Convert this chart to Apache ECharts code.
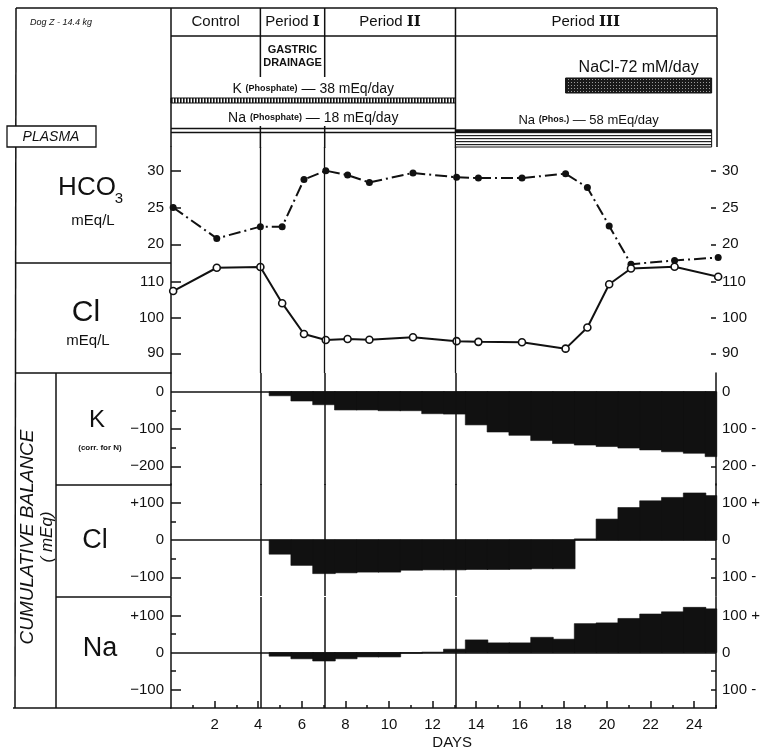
<!DOCTYPE html>
<html><head><meta charset="utf-8">
<script src="https://cdn.jsdelivr.net/npm/echarts@6/dist/echarts.min.js"></script>
<style>html,body{margin:0;padding:0;background:#fff}#c{width:770px;height:751px}</style>
</head><body><div id="c"></div>
<script>
const FONT = "'Liberation Sans','DejaVu Sans',sans-serif";
const INK = '#111';

// ---- Plasma values (sampling day, value) ----
const plasmaDays = [0.1, 2.1, 4.1, 5.1, 6.1, 7.1, 8.1, 9.1, 11.1, 13.1, 14.1, 16.1, 18.1, 19.1, 20.1, 21.1, 23.1, 25.1];
const hco3Values = [25.0, 20.8, 22.4, 22.4, 28.8, 30.0, 29.4, 28.4, 29.7, 29.1, 29.0, 29.0, 29.6, 27.7, 22.5, 17.3, 17.8, 18.2];
const clPlasmaValues = [107.4, 113.9, 114.1, 104.0, 95.4, 93.7, 94.0, 93.8, 94.5, 93.4, 93.2, 93.1, 91.3, 97.2, 109.3, 113.7, 114.2, 111.4];

// ---- Cumulative balances (mEq), one bar per day ----
const balanceDays = [5, 6, 7, 8, 9, 10, 11, 12, 13, 14, 15, 16, 17, 18, 19, 20, 21, 22, 23, 24, 25];
const kBalance  = [-11, -25, -35, -49, -49, -51, -51, -59, -60, -89, -108, -117, -131, -139, -143, -147, -151, -156, -161, -165, -174];
const clBalance = [-38, -68, -90, -88, -86, -86, -81, -80, -80, -79, -79, -78, -77, -77, 3, 56, 87, 105, 114, 126, 119];
const naBalance = [-10, -17, -23, -17, -12, -12, -2, 1, 9, 34, 26, 26, 41, 36, 78, 80, 92, 104, 110, 122, 118];

// ---- Periods and tick labels ----
const periodBounds = [4.1, 7.05, 13.05];
const dayTickLabels = [2, 4, 6, 8, 10, 12, 14, 16, 18, 20, 22, 24];
const dayMinorTicks = [1, 3, 5, 7, 9, 11, 13, 15, 17, 19, 21, 23, 25];
const hco3Ticks = [20, 25, 30];
const clPlasmaTicks = [90, 100, 110];
const kTicks = [0, -100, -200];
const kMinor = [-50, -150];
const clBalTicks = [100, 0, -100];
const clBalMinor = [50, -50];
const naBalTicks = [100, 0, -100];
const naBalMinor = [50, -50];

const zip = (a, b) => a.map((v, i) => [v, b[i]]);

const GL = 171, GR = 54;
const grids = [
  {left: GL, right: GR, top: 147, height: 226},
  {left: GL, right: GR, top: 147, height: 226},
  {left: GL, right: GR, top: 373, height: 112},
  {left: GL, right: GR, top: 484, height: 112},
  {left: GL, right: GR, top: 597, height: 111}
];

function xAx(g, extra) {
  return Object.assign({type: 'value', gridIndex: g, min: 0, max: 25, position: 'bottom',
    axisLine: {show: false, onZero: false}, axisTick: {show: false}, axisLabel: {show: false}, splitLine: {show: false}}, extra || {});
}
function yAx(g, min, max, extra) {
  return Object.assign({type: 'value', gridIndex: g, min: min, max: max,
    axisLine: {show: false, onZero: false}, axisTick: {show: false}, axisLabel: {show: false}, splitLine: {show: false}}, extra || {});
}
const lineSt = {color: INK, width: 1.5};
const lblBase = {show: true, color: INK, fontFamily: FONT, fontSize: 15};
const leftFmt = v => v === 0 ? '0' : (v > 0 ? '+' + v : '\u2212' + Math.abs(v));
const rightFmt = v => v === 0 ? '0' : (v < 0 ? Math.abs(v) + ' -' : Math.abs(v) + ' +');

function majorLeft(g, min, max, ticks, labels, fmt, showLine) {
  return yAx(g, min, max, {position: 'left',
    axisLine: {show: !!showLine, onZero: false, lineStyle: lineSt},
    axisTick: {show: true, inside: true, length: 10, customValues: ticks, lineStyle: lineSt},
    axisLabel: Object.assign({}, lblBase, {customValues: labels, margin: 7, formatter: fmt})});
}
function minorLeft(g, min, max, ticks) {
  return yAx(g, min, max, {position: 'left',
    axisTick: {show: true, inside: true, length: 5, customValues: ticks, lineStyle: lineSt}});
}
function right(g, min, max, ticks, labels, fmt, showLine) {
  return yAx(g, min, max, {position: 'right',
    axisLine: {show: !!showLine, onZero: false, lineStyle: lineSt},
    axisTick: {show: true, inside: true, length: 5, customValues: ticks, lineStyle: lineSt},
    axisLabel: Object.assign({}, lblBase, {customValues: labels, margin: 6, formatter: fmt})});
}

const H_MIN = 2.51, H_MAX = 33.22, C_MIN = 84.5, C_MAX = 147.63;
const yAxes = [
  majorLeft(0, H_MIN, H_MAX, hco3Ticks, hco3Ticks, v => String(v), true),
  right(0, H_MIN, H_MAX, hco3Ticks, hco3Ticks, v => String(v), false),
  majorLeft(1, C_MIN, C_MAX, clPlasmaTicks, clPlasmaTicks, v => String(v), false),
  right(1, C_MIN, C_MAX, clPlasmaTicks, clPlasmaTicks, v => String(v), false),
  majorLeft(2, -250, 50, [-100, -200], kTicks, leftFmt, true),
  minorLeft(2, -250, 50, kMinor),
  right(2, -250, 50, [-50, -100, -150, -200], kTicks, rightFmt, true),
  majorLeft(3, -150, 150, [100, -100], clBalTicks, leftFmt, true),
  minorLeft(3, -150, 150, clBalMinor),
  right(3, -150, 150, [100, 50, -50, -100], clBalTicks, rightFmt, true),
  majorLeft(4, -150, 150, [100, -100], naBalTicks, leftFmt, true),
  minorLeft(4, -150, 150, naBalMinor),
  right(4, -150, 150, [100, 50, -50, -100], naBalTicks, rightFmt, true)
];
const xAxes = [
  xAx(0), xAx(1), xAx(2), xAx(3),
  xAx(4, {axisLine: {show: true, onZero: false, lineStyle: lineSt},
    axisTick: {show: true, inside: true, length: 7, customValues: dayTickLabels, lineStyle: lineSt},
    axisLabel: Object.assign({}, lblBase, {customValues: dayTickLabels, margin: 9})}),
  xAx(4, {axisTick: {show: true, inside: true, length: 3, customValues: dayMinorTicks, lineStyle: lineSt}})
];

const periodMark = {
  symbol: 'none', silent: true, label: {show: false},
  lineStyle: {color: INK, width: 1.3, type: 'solid'},
  data: periodBounds.map(d => ({xAxis: d}))
};
function balMark() {
  return {symbol: 'none', silent: true, label: {show: false},
    lineStyle: {color: INK, width: 1.5, type: 'solid'},
    data: [{yAxis: 0}].concat(periodBounds.map(d => ({xAxis: d})))};
}
function barItem(params, api) {
  const d = api.value(0), v = api.value(1);
  const x0 = Math.max(d - 0.5, 0), x1 = Math.min(d + 0.5, 25);
  const a = api.coord([x0, v]), b = api.coord([x1, 0]);
  return {type: 'rect', shape: {x: a[0], y: Math.min(a[1], b[1]), width: b[0] - a[0] + 0.8, height: Math.abs(b[1] - a[1])},
    style: {fill: INK, stroke: INK, lineWidth: 0.6}};
}
function balSeries(g, yIdx, data) {
  return {type: 'custom', xAxisIndex: g, yAxisIndex: yIdx, renderItem: barItem,
    data: zip(balanceDays, data), markLine: balMark(), silent: true};
}

const series = [
  {type: 'line', xAxisIndex: 0, yAxisIndex: 0, data: zip(plasmaDays, hco3Values), clip: false,
   symbol: 'circle', symbolSize: 7, itemStyle: {color: INK},
   lineStyle: {color: INK, width: 2, type: [12, 4, 2, 4]}, markLine: periodMark, z: 3},
  {type: 'line', xAxisIndex: 1, yAxisIndex: 2, data: zip(plasmaDays, clPlasmaValues), clip: false,
   symbol: 'circle', symbolSize: 7, itemStyle: {color: '#fff', borderColor: INK, borderWidth: 1.6},
   lineStyle: {color: INK, width: 2}, z: 4},
  balSeries(2, 4, kBalance),
  balSeries(3, 7, clBalance),
  balSeries(4, 10, naBalance)
];

const chart = echarts.init(document.getElementById('c'), null, {renderer: 'canvas'});
chart.setOption({animation: false, backgroundColor: '#fff', grid: grids, xAxis: xAxes, yAxis: yAxes, series: series});

// ---- header / frame decoration positioned from the x scale ----
const px = v => chart.convertToPixel({xAxisIndex: 0}, v);
const L = px(0), R = px(25), p1 = px(periodBounds[0]), p2 = px(periodBounds[1]), p3 = px(periodBounds[2]);
function pattern(w, h, draw) {
  const c = document.createElement('canvas'); c.width = w; c.height = h;
  const g = c.getContext('2d'); draw(g); return {image: c, repeat: 'repeat'};
}
const vStripes = pattern(3, 4, g => { g.fillStyle = '#fff'; g.fillRect(0, 0, 3, 4); g.fillStyle = '#111'; g.fillRect(0, 0, 1.6, 4); });
const hStripes = pattern(4, 3, g => { g.fillStyle = '#fff'; g.fillRect(0, 0, 4, 3); g.fillStyle = '#222'; g.fillRect(0, 0, 4, 1.2); });
const stipple = pattern(3, 3, g => { g.fillStyle = '#1a1a1a'; g.fillRect(0, 0, 3, 3); g.fillStyle = '#9a9a9a'; g.fillRect(1, 1, 1, 1); });

const els = [];
function ln(x1, y1, x2, y2, w) { els.push({type: 'line', shape: {x1, y1, x2, y2}, style: {stroke: INK, lineWidth: w || 1.5}, silent: true}); }
function tx(x, y, text, font, extra) {
  els.push(Object.assign({type: 'text', x: x, y: y, silent: true,
    style: Object.assign({text: text, font: font, fill: INK, textAlign: 'center', textVerticalAlign: 'middle'}, (extra && extra.style) || {})},
    extra && extra.el || {}));
}
// frame
ln(16, 8, R + 1, 8); ln(L, 36, R + 1, 36);
ln(16, 8, 15, 708); ln(L, 8, L, 147); ln(R + 1, 8, R + 1, 147);
ln(p1, 8, p1, 77); ln(p2, 8, p2, 77); ln(p1, 126, p1, 148); ln(p2, 126, p2, 148); ln(p3, 8, p3, 148);
ln(16, 263, L, 263); ln(16, 373, L, 373); ln(56, 373, 56, 708);
ln(56, 485, L, 485); ln(56, 597, L, 597); ln(13, 708, L, 708);
// header labels
const hf = '500 15px ' + FONT;
tx(30, 22, 'Dog Z - 14.4 kg', 'italic 9px ' + FONT, {style: {textAlign: 'left'}});
tx((L + p1) / 2, 22, 'Control', hf);
const roman = {r: {fontFamily: "'DejaVu Serif',serif", fontWeight: 'bold', fontSize: 15}};
els.push({type: 'text', x: (p1 + p2) / 2, y: 22, silent: true, style: {text: 'Period {r|I}', font: hf, fill: INK, textAlign: 'center', textVerticalAlign: 'middle', rich: roman}});
els.push({type: 'text', x: (p2 + p3) / 2, y: 22, silent: true, style: {text: 'Period {r|II}', font: hf, fill: INK, textAlign: 'center', textVerticalAlign: 'middle', rich: roman}});
els.push({type: 'text', x: (p3 + R) / 2, y: 22, silent: true, style: {text: 'Period {r|III}', font: hf, fill: INK, textAlign: 'center', textVerticalAlign: 'middle', rich: roman}});
tx((p1 + p2) / 2, 50, 'GASTRIC', 'bold 11px ' + FONT);
tx((p1 + p2) / 2, 63, 'DRAINAGE', 'bold 11px ' + FONT);
const small = {s: {fontSize: 9, fontFamily: FONT, fontWeight: 'bold'}};
els.push({type: 'text', x: (L + p3) / 2, y: 89, silent: true, style: {text: 'K {s|(Phosphate)} \u2014 38 mEq/day', font: '14px ' + FONT, fill: INK, textAlign: 'center', textVerticalAlign: 'middle', rich: small}});
els.push({type: 'rect', shape: {x: L, y: 98, width: p3 - L, height: 5}, style: {fill: vStripes, stroke: INK, lineWidth: 1}, silent: true});
els.push({type: 'text', x: (L + p3) / 2, y: 118, silent: true, style: {text: 'Na {s|(Phosphate)} \u2014 18 mEq/day', font: '14px ' + FONT, fill: INK, textAlign: 'center', textVerticalAlign: 'middle', rich: small}});
ln(L, 128.5, p3, 128.5, 1.6); ln(L, 132.5, p3, 132.5, 1.6);
const nx1 = px(18.1), nx2 = px(24.8);
tx((nx1 + nx2) / 2, 68, 'NaCl-72 mM/day', '16px ' + FONT);
els.push({type: 'rect', shape: {x: nx1, y: 78, width: nx2 - nx1, height: 15}, style: {fill: stipple, stroke: INK, lineWidth: 1}, silent: true});
els.push({type: 'text', x: (p3 + nx2) / 2 + 5, y: 120, silent: true, style: {text: 'Na {s|(Phos.)} \u2014 58 mEq/day', font: '13px ' + FONT, fill: INK, textAlign: 'center', textVerticalAlign: 'middle', rich: small}});
els.push({type: 'rect', shape: {x: p3, y: 130, width: nx2 - p3, height: 17}, style: {fill: hStripes, stroke: INK, lineWidth: 1}, silent: true});
ln(p3, 131, nx2, 131, 3);
// left panel labels
els.push({type: 'rect', shape: {x: 7, y: 126, width: 89, height: 21}, style: {fill: '#fff', stroke: INK, lineWidth: 1.3}, silent: true});
tx(51, 137, 'PLASMA', 'italic 14px ' + FONT);
tx(87, 188, 'HCO', '26px ' + FONT);
tx(119, 199, '3', '15px ' + FONT);
tx(93, 221, 'mEq/L', '15px ' + FONT);
tx(86, 313, 'Cl', '30px ' + FONT);
tx(88, 341, 'mEq/L', '15px ' + FONT);
tx(97, 420, 'K', '24px ' + FONT);
tx(100, 448, '(corr. for N)', 'bold 8px ' + FONT);
tx(95, 541, 'Cl', '27px ' + FONT);
tx(100, 649, 'Na', '27px ' + FONT);
tx(28, 537, 'CUMULATIVE BALANCE', 'italic 19px ' + FONT, {el: {rotation: Math.PI / 2}});
tx(47, 537, '( mEq)', 'italic 17px ' + FONT, {el: {rotation: Math.PI / 2}});
tx(px(12.9), 743, 'DAYS', '15px ' + FONT);

chart.setOption({graphic: {elements: els}});
</script></body></html>
